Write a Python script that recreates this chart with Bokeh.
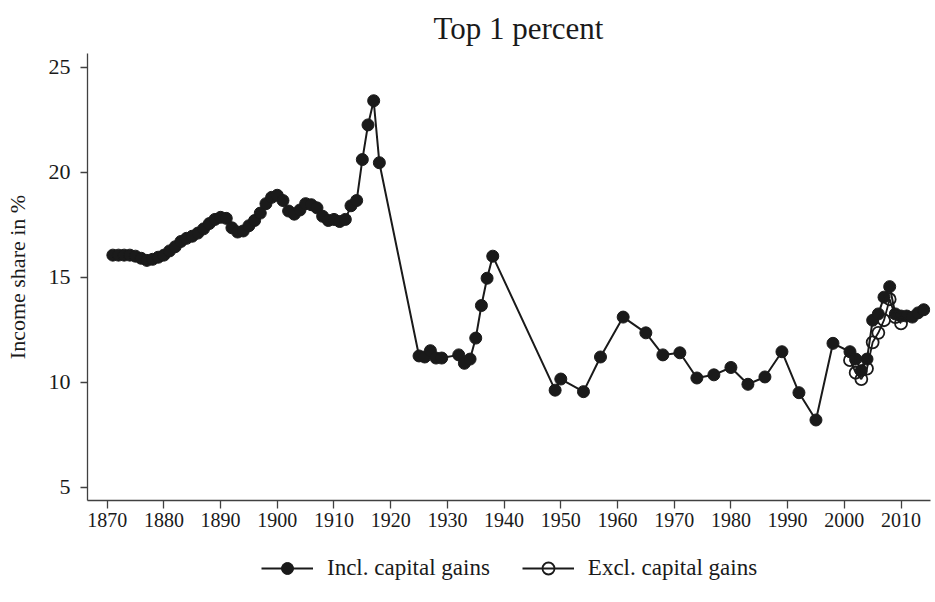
from bokeh.plotting import figure
from bokeh.layouts import column
from bokeh.models import Range1d, Legend, LegendItem, FixedTicker
from bokeh.embed import file_html
from bokeh.resources import INLINE

# Top 1 percent income share, incl. capital gains
years_incl = list(range(1871, 1919)) + [1925, 1926, 1927, 1928, 1929, 1932, 1933, 1934,
              1935, 1936, 1937, 1938, 1949, 1950, 1954, 1957, 1961, 1965, 1968, 1971,
              1974, 1977, 1980, 1983, 1986, 1989, 1992, 1995, 1998, 2001, 2002, 2003,
              2004, 2005, 2006, 2007, 2008, 2009, 2010, 2011, 2012, 2013, 2014]
share_incl = [16.05, 16.05, 16.05, 16.05, 16.0, 15.9, 15.8, 15.85, 15.95, 16.05,
              16.25, 16.45, 16.7, 16.85, 16.95, 17.1, 17.3, 17.55, 17.75, 17.85,
              17.8, 17.35, 17.15, 17.2, 17.45, 17.7, 18.05, 18.5, 18.8, 18.9,
              18.65, 18.15, 18.0, 18.2, 18.5, 18.45, 18.3, 17.9, 17.7, 17.75,
              17.65, 17.75, 18.4, 18.65, 20.6, 22.25, 23.4, 20.45,
              11.25, 11.2, 11.5, 11.15, 11.15, 11.3, 10.9, 11.1,
              12.1, 13.65, 14.95, 16.0, 9.62, 10.15, 9.55, 11.2, 13.1, 12.35, 11.3, 11.4,
              10.2, 10.35, 10.7, 9.9, 10.25, 11.45, 9.5, 8.2, 11.85, 11.45, 11.1, 10.55,
              11.1, 12.95, 13.25, 14.05, 14.55, 13.25, 13.15, 13.15, 13.1, 13.3, 13.45]

# Excl. capital gains
years_excl = [2001, 2002, 2003, 2004, 2005, 2006, 2007, 2008, 2009, 2010]
share_excl = [11.05, 10.45, 10.15, 10.65, 11.9, 12.35, 12.95, 13.95, 13.1, 12.8]

x_ticks = list(range(1870, 2011, 10))
y_ticks = [5, 10, 15, 20, 25]
series_labels = ["Incl. capital gains", "Excl. capital gains"]

FONT = "Liberation Serif"
INK = "#1a1a1a"

p = figure(width=935, height=545, output_backend="svg", toolbar_location=None,
           x_range=Range1d(1866.53, 2015.2), y_range=Range1d(4.367, 25.65),
           min_border_left=87, min_border_right=5, min_border_top=53,
           min_border_bottom=45)

p.title.text = "Top 1 percent"
p.title.align = "left"
p.title.offset = 346
p.title.standoff = 16
p.title.text_font = FONT
p.title.text_font_size = "31px"
p.title.text_font_style = "normal"
p.title.text_color = INK

p.outline_line_color = None
p.xgrid.grid_line_color = None
p.ygrid.grid_line_color = None
p.background_fill_color = "white"
p.border_fill_color = "white"

p.xaxis.ticker = FixedTicker(ticks=x_ticks)
p.yaxis.ticker = FixedTicker(ticks=y_ticks)
for ax in (p.xaxis, p.yaxis):
    ax.minor_tick_line_color = None
    ax.major_tick_in = 0
    ax.axis_line_color = "#404040"
    ax.axis_line_width = 1.3
    ax.major_tick_line_color = "#404040"
    ax.major_tick_line_width = 1.3
    ax.major_label_text_font = FONT
    ax.major_label_text_color = INK
    ax.axis_label_text_font = FONT
    ax.axis_label_text_font_style = "normal"
    ax.axis_label_text_color = INK
p.xaxis.major_tick_out = 8
p.yaxis.major_tick_out = 7
p.xaxis.major_label_text_font_size = "20px"
p.yaxis.major_label_text_font_size = "22px"
p.xaxis.major_label_standoff = 4
p.yaxis.major_label_standoff = 10
p.yaxis.axis_label = "Income share in %"
p.yaxis.axis_label_text_font_size = "22px"
p.yaxis.axis_label_standoff = 16

p.line(years_incl, share_incl, line_color=INK, line_width=2)
p.scatter(years_incl, share_incl, size=12, fill_color=INK, line_color=INK,
          line_width=1)
p.line(years_excl, share_excl, line_color=INK, line_width=1.8)
p.scatter(years_excl, share_excl, size=12, fill_alpha=0, line_color=INK,
          line_width=1.8)

# Legend strip below the chart (same series, used only for the key)
lg = figure(width=935, height=57, output_backend="svg", toolbar_location=None,
            x_range=Range1d(0, 1), y_range=Range1d(0, 1),
            x_axis_location=None, y_axis_location=None,
            min_border_left=0, min_border_right=0, min_border_top=0,
            min_border_bottom=0)
lg.outline_line_color = None
lg.xgrid.grid_line_color = None
lg.ygrid.grid_line_color = None
k1 = lg.line(years_incl, share_incl, line_color=INK, line_width=2)
k1s = lg.scatter(years_incl, share_incl, size=12, fill_color=INK, line_color=INK,
                 line_width=1)
k2 = lg.line(years_excl, share_excl, line_color=INK, line_width=1.8)
k2s = lg.scatter(years_excl, share_excl, size=12, fill_alpha=0, line_color=INK,
                 line_width=1.8)
legend = Legend(items=[LegendItem(label=series_labels[0], renderers=[k1, k1s]),
                       LegendItem(label=series_labels[1], renderers=[k2, k2s])],
                location=(174, 19), orientation="horizontal",
                border_line_color=None, background_fill_alpha=0,
                label_text_font=FONT, label_text_font_size="23px",
                label_text_color=INK, glyph_width=52, glyph_height=30,
                label_standoff=14, spacing=32, padding=6, margin=0)
lg.add_layout(legend, "center")

layout = column(p, lg, spacing=0)
open("out.html", "w").write(file_html(layout, INLINE))
